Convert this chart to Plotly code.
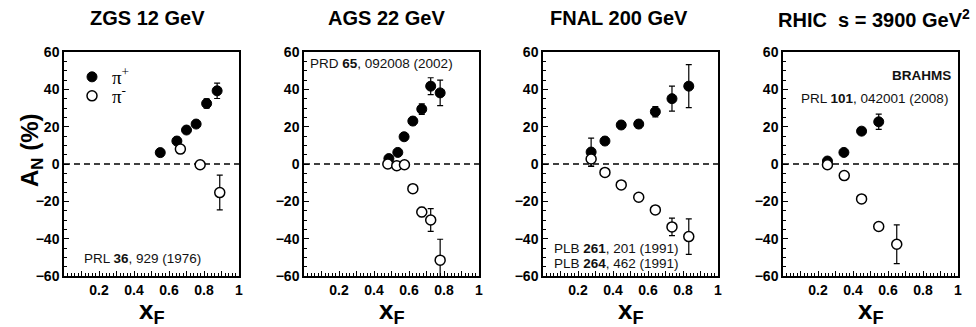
import plotly.graph_objects as go

# ---------------- data ----------------
panel_titles = ["ZGS 12 GeV", "AGS 22 GeV", "FNAL 200 GeV", "RHIC\u00a0\u00a0s = 3900 GeV<sup>2</sup>"]
series_names = ["\u03c0<sup>+</sup>", "\u03c0<sup>-</sup>"]

zgs_pip_x = [0.55, 0.645, 0.70, 0.755, 0.815, 0.875]
zgs_pip_y = [6.1, 12.3, 18.2, 21.4, 32.4, 39.2]
zgs_pip_e = [1.5, 2.0, 1.5, 1.5, 2.5, 4.1]
zgs_pim_x = [0.665, 0.778, 0.89]
zgs_pim_y = [8.0, -0.4, -15.3]
zgs_pim_e = [2.0, 1.5, 9.3]

ags_pip_x = [0.485, 0.536, 0.572, 0.622, 0.673, 0.724, 0.778]
ags_pip_y = [2.9, 6.2, 14.6, 23.0, 29.4, 41.7, 38.1]
ags_pip_e = [1.5, 1.5, 1.5, 2.0, 2.8, 4.5, 6.8]
ags_pim_x = [0.479, 0.53, 0.574, 0.622, 0.673, 0.724, 0.778]
ags_pim_y = [0.0, -0.9, -0.4, -13.2, -25.7, -30.0, -51.5]
ags_pim_e = [1.5, 1.5, 1.5, 2.0, 2.5, 6.1, 11.2]

fnal_pip_x = [0.275, 0.354, 0.447, 0.547, 0.642, 0.737, 0.833]
fnal_pip_y = [6.4, 12.3, 20.9, 21.4, 28.0, 35.0, 41.7]
fnal_pip_e = [7.5, 2.0, 2.0, 2.0, 2.8, 6.7, 11.5]
fnal_pim_x = [0.275, 0.354, 0.447, 0.547, 0.642, 0.737, 0.833]
fnal_pim_y = [2.7, -4.5, -11.2, -17.8, -24.6, -33.7, -38.9]
fnal_pim_e = [4.0, 1.5, 1.5, 1.5, 1.5, 4.7, 9.5]

rhic_pip_x = [0.254, 0.348, 0.449, 0.547]
rhic_pip_y = [1.6, 6.2, 17.6, 22.6]
rhic_pip_e = [1.5, 1.5, 1.5, 4.1]
rhic_pim_x = [0.254, 0.35, 0.449, 0.547, 0.65]
rhic_pim_y = [-0.4, -6.2, -18.7, -33.5, -43.0]
rhic_pim_e = [1.5, 1.5, 1.5, 1.5, 10.4]

x_tickvals = [0.1, 0.2, 0.3, 0.4, 0.5, 0.6, 0.7, 0.8, 0.9, 1.0]
x_ticktext = ["", "0.2", "", "0.4", "", "0.6", "", "0.8", "", "1"]

refs = [
    [("PRL <b>36</b>, 929 (1976)", 0.104, -50.4, "left")],
    [("PRD <b>65</b>, 092008 (2002)", 0.025, 53.8, "left")],
    [("PLB <b>261</b>, 201 (1991)", 0.051, -45.1, "left"),
     ("PLB <b>264</b>, 462 (1991)", 0.051, -53.1, "left")],
    [("<b>BRAHMS</b>", 0.972, 47.6, "right"),
     ("PRL <b>101</b>, 042001 (2008)", 0.089, 35.1, "left")],
]

panels = [
    (zgs_pip_x, zgs_pip_y, zgs_pip_e, zgs_pim_x, zgs_pim_y, zgs_pim_e),
    (ags_pip_x, ags_pip_y, ags_pip_e, ags_pim_x, ags_pim_y, ags_pim_e),
    (fnal_pip_x, fnal_pip_y, fnal_pip_e, fnal_pim_x, fnal_pim_y, fnal_pim_e),
    (rhic_pip_x, rhic_pip_y, rhic_pip_e, rhic_pim_x, rhic_pim_y, rhic_pim_e),
]

# ---------------- layout geometry ----------------
W, H = 976, 327
left_px = [64, 304, 543, 783]
panel_w = 175
top_px, bot_px = 52, 276
title_cx = [147, 386, 619, 874]

FONT = "Arial, Liberation Sans, sans-serif"
SERIF = "Times New Roman, Liberation Serif, serif"

leg_common = dict(xanchor="left", yanchor="top", bgcolor="rgba(0,0,0,0)", borderwidth=0,
                  font=dict(family=SERIF, size=19, color="black"), itemwidth=30)

layout = go.Layout(
    width=W, height=H, margin=dict(l=0, r=0, t=0, b=0),
    paper_bgcolor="white", plot_bgcolor="white",
    template="none",
    showlegend=True,
    legend=dict(x=72 / W, y=1 - 58 / H, **leg_common),
    legend2=dict(x=72 / W, y=1 - 77 / H, **leg_common),
)
fig = go.Figure(layout=layout)

for i, (px, py, pe, mx, my, me) in enumerate(panels):
    col = i + 1
    axn = "" if i == 0 else str(col)
    xr = "x" if i == 0 else f"x{col}"
    yr = "y" if i == 0 else f"y{col}"
    fig.add_trace(go.Scatter(
        x=px, y=py, mode="markers", xaxis=xr, yaxis=yr,
        name=series_names[0], legend="legend",
        showlegend=(i == 0), cliponaxis=False,
        marker=dict(symbol="circle", size=10, color="black", line=dict(color="black", width=1)),
        error_y=dict(type="data", array=pe, visible=True, color="black", thickness=1.2, width=3),
    ))
    fig.add_trace(go.Scatter(
        x=mx, y=my, mode="markers", xaxis=xr, yaxis=yr,
        name=series_names[1], legend="legend2",
        showlegend=(i == 0), cliponaxis=False,
        marker=dict(symbol="circle", size=10, color="white", line=dict(color="black", width=1.5)),
        error_y=dict(type="data", array=me, visible=True, color="black", thickness=1.2, width=3),
    ))

    x0 = left_px[i] / W
    x1 = (left_px[i] + panel_w) / W
    xa = dict(
        anchor=yr, domain=[x0, x1], range=[0, 1], showgrid=False, zeroline=False,
        showline=True, linecolor="black", linewidth=1.5, mirror=True,
        ticks="inside", ticklen=5, tickwidth=1, tickcolor="black",
        tickmode="array", tickvals=x_tickvals, ticktext=x_ticktext,
        tickfont=dict(family=FONT, size=14, color="black", weight="bold"),
        minor=dict(ticks="inside", ticklen=3, tickwidth=1, tickcolor="black", dtick=0.02, tick0=0),
    )
    ya = dict(
        anchor=xr, domain=[1 - bot_px / H, 1 - top_px / H], range=[-60, 60], showgrid=False, zeroline=False,
        showline=True, linecolor="black", linewidth=1.5, mirror=True,
        ticks="inside", ticklen=5, tickwidth=1, tickcolor="black",
        tickmode="linear", tick0=-60, dtick=20,
        tickfont=dict(family=FONT, size=14, color="black", weight="bold"),
        minor=dict(ticks="inside", ticklen=3, tickwidth=1, tickcolor="black", dtick=5, tick0=0),
    )
    fig.update_layout({f"xaxis{axn}": xa, f"yaxis{axn}": ya})

    # dashed zero line
    fig.add_shape(type="line", xref=f"{xr} domain", yref=yr, x0=0, x1=1, y0=0, y1=0,
                  line=dict(color="black", width=1.3, dash="6px,4px"), layer="below")
    # panel title
    fig.add_annotation(text=panel_titles[i], xref="paper", yref="paper",
                       x=title_cx[i] / W, y=1 - 18 / H, xanchor="center", yanchor="middle",
                       showarrow=False, font=dict(family=FONT, size=20, color="black", weight="bold"))
    # x axis title
    fig.add_annotation(text="x<sub>F</sub>", xref=f"{xr} domain", yref="paper",
                       x=0.5, y=1 - 311 / H, xanchor="center", yanchor="middle",
                       showarrow=False, font=dict(family=FONT, size=26, color="black", weight="bold"))
    # reference texts
    for (t, ax, ay, anc) in refs[i]:
        fig.add_annotation(text=t, xref=f"{xr} domain", yref=yr, x=ax, y=ay,
                           xanchor=anc, yanchor="middle", showarrow=False,
                           font=dict(family=FONT, size=13.5, color="#111"))

# y axis title
fig.add_annotation(text="A<sub>N</sub> (%)", xref="paper", yref="paper",
                   x=31 / W, y=1 - 151 / H, xanchor="center", yanchor="middle", textangle=-90,
                   showarrow=False, font=dict(family=FONT, size=24, color="black", weight="bold"))

fig.write_html("out.html")
